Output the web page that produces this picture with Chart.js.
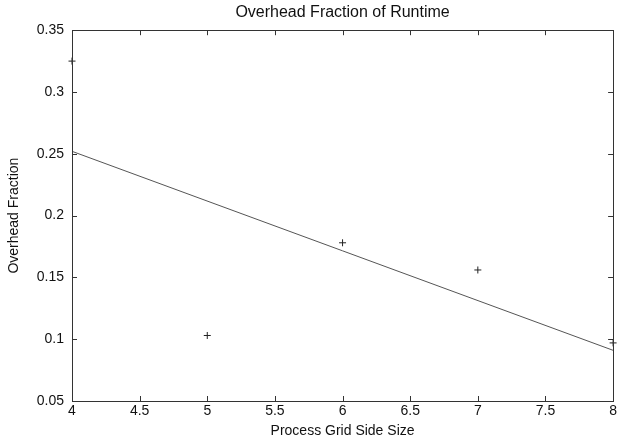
<!DOCTYPE html>
<html>
<head>
<meta charset="utf-8">
<script src="https://cdn.jsdelivr.net/npm/chart.js@4"></script>
<style>
  html, body { margin: 0; padding: 0; background: #fff; }
  #wrap { width: 619px; height: 442px; }
</style>
</head>
<body>
<div id="wrap"><canvas id="overheadChart" width="619" height="442"></canvas></div>
<script>
// Data
const gridSizes = [4, 5, 6, 7, 8];
const overheadFractions = [0.325, 0.103, 0.178, 0.156, 0.097];

// Fitted trend line end points
const fitX = [4, 8];
const fitY = [0.252, 0.091];

const xTicks = [4, 4.5, 5, 5.5, 6, 6.5, 7, 7.5, 8];
const yTicks = [0.05, 0.1, 0.15, 0.2, 0.25, 0.3, 0.35];

const FONT = "'Liberation Sans', Helvetica, Arial, sans-serif";

// Draws the box around the plot and gnuplot-style inward ticks on all sides
const frameTicks = {
    id: 'frameTicks',
    afterDatasetsDraw(chart) {
        const { ctx, chartArea: a, scales } = chart;
        const len = 5;
        ctx.save();
        ctx.strokeStyle = '#333';
        ctx.lineWidth = 1;
        ctx.beginPath();
        xTicks.forEach(v => {
            const px = Math.round(scales.x.getPixelForValue(v)) + 0.5;
            ctx.moveTo(px, a.bottom); ctx.lineTo(px, a.bottom - len);
            ctx.moveTo(px, a.top); ctx.lineTo(px, a.top + len);
        });
        yTicks.forEach(v => {
            const py = Math.round(scales.y.getPixelForValue(v)) + 0.5;
            ctx.moveTo(a.left, py); ctx.lineTo(a.left + len, py);
            ctx.moveTo(a.right, py); ctx.lineTo(a.right - len, py);
        });
        ctx.stroke();
        ctx.strokeRect(Math.round(a.left) + 0.5, Math.round(a.top) + 0.5,
            Math.round(a.right - a.left), Math.round(a.bottom - a.top));
        ctx.restore();
    }
};

function initializeChart() {
    const ctx = document.getElementById('overheadChart').getContext('2d');
    return new Chart(ctx, {
        type: 'scatter',
        data: {
            datasets: [{
                label: 'Overhead',
                data: gridSizes.map((x, i) => ({ x: x, y: overheadFractions[i] })),
                pointStyle: 'cross',
                pointRadius: 3.5,
                pointBorderWidth: 1,
                borderColor: '#222',
                backgroundColor: '#222',
                clip: false
            }, {
                label: 'Fit',
                data: fitX.map((x, i) => ({ x: x, y: fitY[i] })),
                showLine: true,
                pointRadius: 0,
                borderColor: '#555',
                borderWidth: 1
            }]
        },
        options: {
            responsive: false,
            animation: false,
            layout: { padding: { left: 0, right: 5, top: 0, bottom: 0 } },
            plugins: {
                legend: { display: false },
                tooltip: { enabled: false },
                title: {
                    display: true,
                    fullSize: false,
                    text: 'Overhead Fraction of Runtime',
                    color: '#111',
                    font: { family: FONT, size: 16, weight: 'normal' },
                    padding: { top: 3, bottom: 8 }
                }
            },
            scales: {
                x: {
                    type: 'linear',
                    min: 4,
                    max: 8,
                    afterBuildTicks: s => { s.ticks = xTicks.map(v => ({ value: v })); },
                    afterFit: s => { s.height = 41; },
                    grid: { display: false, drawTicks: false },
                    border: { display: false },
                    ticks: {
                        color: '#111',
                        padding: 2,
                        font: { family: FONT, size: 14 },
                        callback: v => String(v)
                    },
                    title: {
                        display: true,
                        text: 'Process Grid Side Size',
                        color: '#111',
                        font: { family: FONT, size: 14 },
                        padding: { top: 0, bottom: 2 }
                    }
                },
                y: {
                    min: 0.05,
                    max: 0.35,
                    afterBuildTicks: s => { s.ticks = yTicks.map(v => ({ value: v })); },
                    afterFit: s => { s.width = 72; },
                    grid: { display: false, drawTicks: false },
                    border: { display: false },
                    ticks: {
                        color: '#111',
                        padding: 8,
                        font: { family: FONT, size: 14 },
                        callback: v => String(Math.round(v * 100) / 100)
                    },
                    title: {
                        display: true,
                        text: 'Overhead Fraction',
                        color: '#111',
                        font: { family: FONT, size: 14 },
                        padding: { top: 6, bottom: 0 }
                    }
                }
            }
        },
        plugins: [frameTicks]
    });
}

document.addEventListener('DOMContentLoaded', () => {
    initializeChart();
});
</script>
</body>
</html>
